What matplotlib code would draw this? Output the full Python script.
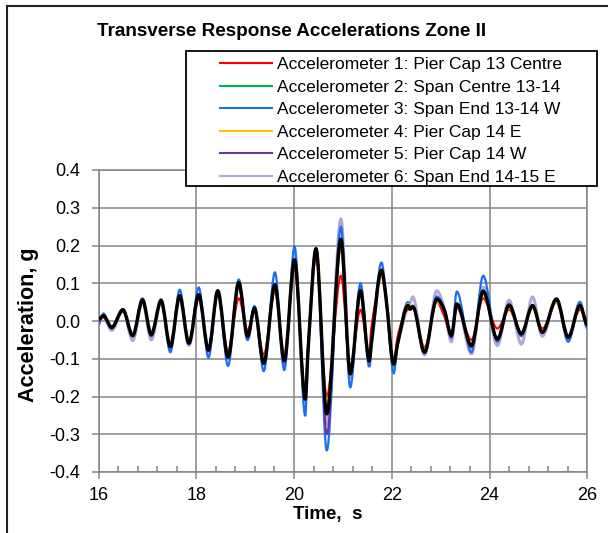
import matplotlib
matplotlib.use("Agg")
import matplotlib.pyplot as plt
from matplotlib.lines import Line2D
from matplotlib.patches import Rectangle, PathPatch
from matplotlib.path import Path
from matplotlib.ticker import MultipleLocator, FixedLocator, FixedFormatter

plt.rcParams['font.family'] = ['Liberation Sans', 'DejaVu Sans']

title = "Transverse Response Accelerations Zone II"
x_label = "Time,  s"
y_label = "Acceleration, g"
labels = ["Accelerometer 1: Pier Cap 13 Centre",
          "Accelerometer 2: Span Centre 13-14",
          "Accelerometer 3: Span End 13-14 W",
          "Accelerometer 4: Pier Cap 14 E",
          "Accelerometer 5: Pier Cap 14 W",
          "Accelerometer 6: Span End 14-15 E"]
colors = ["#ff0000", "#00b050", "#1a6ef5", "#ffc000", "#7030a0", "#b4a7d6"]

y_ticks = [-0.4, -0.3, -0.2, -0.1, 0.0, 0.1, 0.2, 0.3, 0.4]
y_tick_labels = ["-0.4", "-0.3", "-0.2", "-0.1", "0.0", "0.1", "0.2", "0.3", "0.4"]
x_ticks = [16, 18, 20, 22, 24, 26]
x_tick_labels = ["16", "18", "20", "22", "24", "26"]

time = [16.00, 16.10, 16.27, 16.50, 16.70, 16.90, 17.08, 17.28, 17.47, 17.66,
        17.85, 18.05, 18.25, 18.44, 18.65, 18.87, 19.05, 19.19, 19.38, 19.61,
        19.80, 20.01, 20.23, 20.29, 20.45, 20.67, 20.96, 21.15, 21.36, 21.54,
        21.58, 21.79, 21.88, 22.04, 22.12, 22.33, 22.38, 22.43, 22.67, 22.92,
        23.08, 23.22, 23.33, 23.63, 23.87, 24.16, 24.40, 24.65, 24.88, 25.08,
        25.37, 25.61, 25.85, 26.00]

acc1 = [0.000, 0.010, -0.015, 0.025, -0.035, 0.050, -0.030, 0.050, -0.060, 0.060,
        -0.055, 0.060, -0.070, 0.070, -0.080, 0.060, -0.025, 0.030, -0.090, 0.080,
        -0.090, 0.140, -0.190, -0.060, 0.170, -0.200, 0.120, -0.120, 0.030, -0.090,
        -0.020, 0.120, 0.060, -0.110, -0.040, 0.030, 0.030, 0.035, -0.070, 0.050,
        0.010, -0.040, 0.035, -0.050, 0.060, -0.020, 0.030, -0.030, 0.035, -0.020,
        0.050, -0.040, 0.030, 0.005]
acc2 = [0.005, 0.014, -0.017, 0.030, -0.039, 0.055, -0.036, 0.054, -0.068, 0.066,
        -0.058, 0.070, -0.077, 0.080, -0.095, 0.100, -0.040, 0.034, -0.110, 0.096,
        -0.105, 0.160, -0.205, -0.070, 0.190, -0.245, 0.210, -0.140, 0.080, -0.105,
        -0.060, 0.135, 0.063, -0.120, -0.060, 0.040, 0.035, 0.040, -0.080, 0.058,
        0.027, -0.040, 0.045, -0.065, 0.078, -0.048, 0.042, -0.034, 0.041, -0.030,
        0.058, -0.043, 0.041, -0.010]
acc3 = [-0.010, 0.020, -0.020, 0.030, -0.040, 0.060, -0.040, 0.058, -0.083, 0.083,
        -0.060, 0.089, -0.097, 0.082, -0.119, 0.110, -0.050, 0.040, -0.133, 0.129,
        -0.130, 0.197, -0.251, -0.070, 0.195, -0.343, 0.250, -0.176, 0.100, -0.120,
        -0.070, 0.155, 0.070, -0.139, -0.060, 0.050, 0.040, 0.040, -0.085, 0.065,
        0.030, -0.045, 0.078, -0.083, 0.120, -0.055, 0.045, -0.040, 0.040, -0.030,
        0.055, -0.055, 0.050, -0.020]
acc4 = [0.005, 0.012, -0.015, 0.028, -0.035, 0.050, -0.030, 0.050, -0.060, 0.060,
        -0.050, 0.065, -0.070, 0.075, -0.090, 0.095, -0.040, 0.032, -0.100, 0.090,
        -0.095, 0.150, -0.190, -0.065, 0.180, -0.220, 0.190, -0.130, 0.070, -0.100,
        -0.060, 0.120, 0.060, -0.105, -0.055, 0.045, 0.040, 0.040, -0.075, 0.050,
        0.025, -0.040, 0.040, -0.070, 0.070, -0.045, 0.035, -0.030, 0.035, -0.025,
        0.050, -0.040, 0.035, -0.010]
acc5 = [0.003, 0.013, -0.020, 0.030, -0.040, 0.055, -0.040, 0.052, -0.070, 0.065,
        -0.060, 0.068, -0.080, 0.078, -0.095, 0.090, -0.035, 0.033, -0.110, 0.092,
        -0.110, 0.160, -0.205, -0.070, 0.190, -0.300, 0.200, -0.140, 0.075, -0.110,
        -0.060, 0.130, 0.065, -0.115, -0.060, 0.040, 0.035, 0.040, -0.080, 0.055,
        0.025, -0.040, 0.045, -0.070, 0.075, -0.050, 0.040, -0.035, 0.040, -0.030,
        0.055, -0.045, 0.040, -0.010]
acc6 = [0.000, 0.012, -0.025, 0.028, -0.052, 0.050, -0.050, 0.050, -0.075, 0.060,
        -0.065, 0.065, -0.080, 0.075, -0.100, 0.105, -0.050, 0.035, -0.115, 0.095,
        -0.120, 0.170, -0.215, -0.080, 0.190, -0.273, 0.270, -0.150, 0.090, -0.120,
        -0.070, 0.130, 0.070, -0.120, -0.060, 0.040, 0.050, 0.064, -0.090, 0.080,
        0.030, -0.055, 0.045, -0.087, 0.090, -0.065, 0.055, -0.061, 0.064, -0.040,
        0.060, -0.050, 0.050, -0.015]
average = [0.005, 0.014, -0.017, 0.030, -0.039, 0.056, -0.036, 0.054, -0.068, 0.067,
           -0.059, 0.070, -0.077, 0.080, -0.096, 0.102, -0.041, 0.034, -0.112, 0.096,
           -0.105, 0.162, -0.207, -0.070, 0.191, -0.246, 0.217, -0.140, 0.080, -0.105,
           -0.062, 0.135, 0.063, -0.114, -0.060, 0.041, 0.032, 0.038, -0.083, 0.058,
           0.027, -0.039, 0.045, -0.065, 0.079, -0.048, 0.042, -0.034, 0.041, -0.030,
           0.058, -0.043, 0.041, -0.010]


def smooth_path(xs, ys):
    """Smoothed-line rendering (like a spreadsheet 'smoothed line'): cubic
    Bezier segments through the given points, flat at local extrema."""
    n = len(xs)
    slopes = []
    for i in range(n):
        if i == 0 or i == n - 1:
            slopes.append(0.0)
            continue
        d0 = ys[i] - ys[i - 1]
        d1 = ys[i + 1] - ys[i]
        if d0 * d1 <= 0:
            slopes.append(0.0)
        else:
            s = (ys[i + 1] - ys[i - 1]) / (xs[i + 1] - xs[i - 1])
            slopes.append(s)
    verts = [(xs[0], ys[0])]
    codes = [Path.MOVETO]
    for i in range(n - 1):
        dx = xs[i + 1] - xs[i]
        verts += [(xs[i] + dx / 3, ys[i] + slopes[i] * dx / 3),
                  (xs[i + 1] - dx / 3, ys[i + 1] - slopes[i + 1] * dx / 3),
                  (xs[i + 1], ys[i + 1])]
        codes += [Path.CURVE4] * 3
    return Path(verts, codes)


W, H = 608, 533
fig = plt.figure(figsize=(W / 100, H / 100), dpi=100)
ax = fig.add_axes([98.5 / W, 1 - 472 / H, (587.3 - 98.5) / W, (472 - 170) / H])

series = [acc1, acc2, acc3, acc4, acc5, acc6]
draw_order = [5, 2, 0, 1, 3, 4]
lws = [1.5, 1.5, 1.6, 1.5, 1.5, 2.2]
for k, i in enumerate(draw_order):
    ax.add_patch(PathPatch(smooth_path(time, series[i]), fill=False, edgecolor=colors[i],
                           lw=lws[i], joinstyle='round', capstyle='round', zorder=3 + k * 0.1))
handles = [Line2D([], [], color=colors[i], lw=1.5) for i in range(6)]
ax.add_patch(PathPatch(smooth_path(time, average), fill=False, edgecolor='black', lw=2.4,
                       joinstyle='round', capstyle='round', zorder=4))

grey = "#858585"
ax.set_xlim(16, 26)
ax.set_ylim(-0.4, 0.4)
ax.xaxis.set_major_locator(FixedLocator(x_ticks))
ax.xaxis.set_major_formatter(FixedFormatter(x_tick_labels))
ax.xaxis.set_minor_locator(MultipleLocator(0.4))
ax.yaxis.set_major_locator(FixedLocator(y_ticks))
ax.yaxis.set_major_formatter(FixedFormatter(y_tick_labels))
ax.grid(True, which='major', color=grey, lw=1.1, zorder=1)
ax.set_axisbelow(True)
for s in ax.spines.values():
    s.set_color(grey)
    s.set_linewidth(1.1)
ax.tick_params(axis='both', which='major', color=grey, width=1.1, length=5, direction='out',
               labelsize=13, labelcolor='black')
ax.tick_params(axis='y', which='major', pad=8)
ax.tick_params(axis='x', which='major', pad=6)
ax.tick_params(axis='x', which='minor', color=grey, width=1.1, length=4, direction='in')

fig.text(292 / W, 1 - 32 / H, title, ha='center', va='center', fontsize=13.6, fontweight='bold')
fig.text(328 / W, 1 - 515 / H, x_label, ha='center', va='center', fontsize=13.5, fontweight='bold')
fig.text(29 / W, 1 - 325 / H, y_label, ha='center', va='center', rotation=90, fontsize=15.5, fontweight='bold')

# legend frame and entries
fig.patches.append(Rectangle((186 / W, 1 - 186 / H), (597 - 186) / W, (186 - 51) / H,
                             transform=fig.transFigure, facecolor='white', edgecolor='black',
                             lw=1.3, zorder=5))
leg = fig.legend(handles, labels, loc='upper left', bbox_to_anchor=(215 / W, 1 - 52 / H),
                 frameon=False, fontsize=12.5, handlelength=3.0, handletextpad=0.25,
                 labelspacing=0.42, borderpad=0.3, borderaxespad=0)
leg.set_zorder(6)

# outer frame of the figure (cropped at right and bottom)
fig.lines.append(Line2D([6.5 / W, 6.5 / W], [0, 1 - 5.5 / H], transform=fig.transFigure, color='#222222', lw=1.5))
fig.lines.append(Line2D([6.5 / W, 1], [1 - 5.5 / H, 1 - 5.5 / H], transform=fig.transFigure, color='#222222', lw=1.5))

fig.savefig("out.png", dpi=100)
